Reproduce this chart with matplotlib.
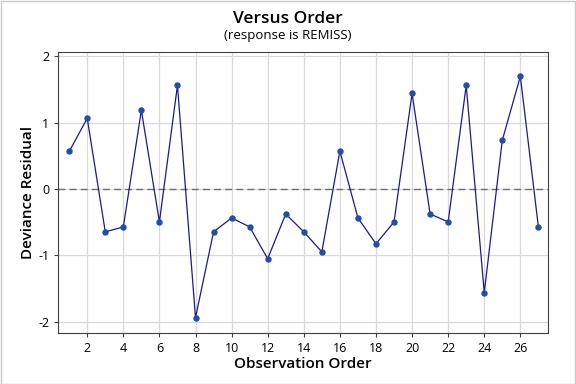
import matplotlib.pyplot as plt

# observation order and deviance residuals
order = list(range(1, 28))
resid = [0.565, 1.065, -0.645, -0.57, 1.185, -0.495, 1.56, -1.935, -0.645,
         -0.435, -0.57, -1.05, -0.375, -0.645, -0.945, 0.57, -0.435, -0.825,
         -0.495, 1.44, -0.375, -0.495, 1.56, -1.56, 0.735, 1.695, -0.57]
xticks = list(range(2, 28, 2))
yticks = [-2, -1, 0, 1, 2]

plt.rcParams['font.family'] = ['Open Sans', 'DejaVu Sans']
plt.rcParams['axes.unicode_minus'] = False

fig = plt.figure(figsize=(5.76, 3.84), dpi=100)
ax = fig.add_axes([0.101, 0.134, 0.85, 0.731])

ax.grid(True, color='#d9d9d9', linewidth=0.9)
ax.set_axisbelow(True)
ax.axhline(0, color='#707070', linestyle=(0, (5, 3)), linewidth=1)
ax.plot(order, resid, color='#1a1a8c', linewidth=0.9,
        marker='o', markersize=3.6, markerfacecolor='#1f4fa8', markeredgecolor='#1f4fa8')

ax.set_xlim(0.39, 27.52)
ax.set_ylim(-2.16, 2.065)
ax.set_xticks(xticks)
ax.set_yticks(yticks)
ax.tick_params(labelsize=9, length=3, color='#404040')
for s in ax.spines.values():
    s.set_color('#404040')

ax.set_xlabel('Observation Order', fontsize=11, fontweight='semibold', labelpad=2)
ax.set_ylabel('Deviance Residual', fontsize=11, fontweight='semibold', labelpad=2)

fig.text(0.5, 0.95, 'Versus Order', ha='center', va='center', fontsize=12.5, fontweight='semibold')
fig.text(0.5, 0.908, '(response is REMISS)', ha='center', va='center', fontsize=9.5, fontweight='medium')

fig.patches.append(plt.Rectangle((0.001, 0.001), 0.997, 0.997, transform=fig.transFigure,
                                 fill=False, edgecolor='#c8c8c8', linewidth=1))

plt.savefig('out.png', dpi=100)
